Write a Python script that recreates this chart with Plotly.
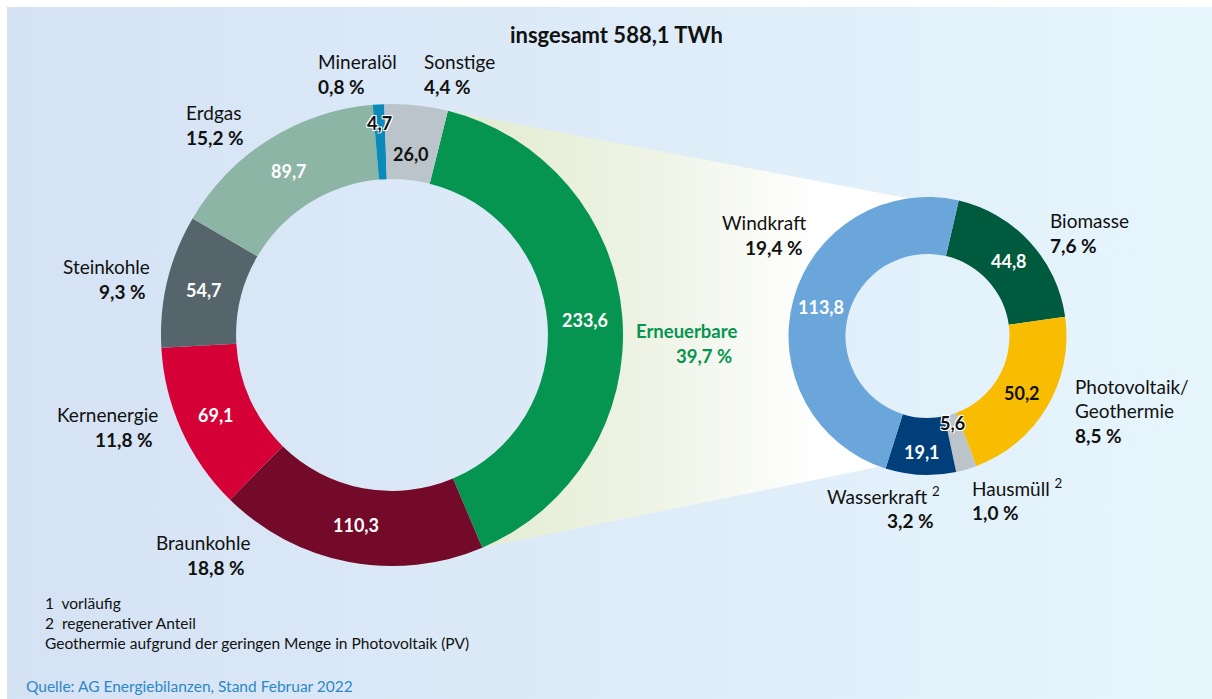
import numpy as np
import plotly.graph_objects as go

# Bruttostromerzeugung 2021 (TWh), vorläufig
main_labels = ["Erneuerbare", "Braunkohle", "Kernenergie", "Steinkohle",
               "Erdgas", "Mineralöl", "Sonstige"]
main_values = [233.6, 110.3, 69.1, 54.7, 89.7, 4.7, 26.0]
main_shares = ["39,7 %", "18,8 %", "11,8 %", "9,3 %", "15,2 %", "0,8 %", "4,4 %"]

ren_labels = ["Biomasse", "Photovoltaik/<br>Geothermie", "Hausmüll <sup>2</sup>",
              "Wasserkraft <sup>2</sup>", "Windkraft"]
ren_values = [44.8, 50.2, 5.6, 19.1, 113.8]
ren_shares = ["7,6 %", "8,5 %", "1,0 %", "3,2 %", "19,4 %"]

title_text = "insgesamt 588,1 TWh"
notes = ["1  vorläufig", "2  regenerativer Anteil",
         "Geothermie aufgrund der geringen Menge in Photovoltaik (PV)"]
source_text = "Quelle: AG Energiebilanzen, Stand Februar 2022"

# colours
main_colors = ["#069550", "#740A2A", "#D40036", "#56646B", "#8DB5A6", "#0A8AB8", "#BCC4CB"]
ren_colors = ["#005A3E", "#F8BD00", "#BCC4CB", "#003F7A", "#6BA6DA"]
main_txtcol = ["white", "white", "white", "white", "white", "#111111", "#111111"]
ren_txtcol = ["white", "#111111", "#111111", "white", "white"]

W, H = 1212, 699
FONT = "Lato"

# donut geometry in pixels
big = dict(cx=392, cy=335, R=231, hole=0.675, rot=14)
small = dict(cx=927.5, cy=336, R=139, hole=0.59, rot=13)


def domain(g):
    return dict(x=[(g["cx"] - g["R"]) / W, (g["cx"] + g["R"]) / W],
                y=[(H - g["cy"] - g["R"]) / H, (H - g["cy"] + g["R"]) / H])


def pt(g, ang, rad):
    a = np.radians(ang)
    return g["cx"] + rad * np.sin(a), g["cy"] - rad * np.cos(a)


def slice_angles(g, vals):
    tot = sum(vals)
    edges = g["rot"] + 360 * np.concatenate([[0], np.cumsum(vals)]) / tot
    return edges[:-1], edges[1:]


fig = go.Figure()

# background gradient
fig.add_trace(go.Scatter(
    x=[7, W, W, 7, 7], y=[7, 7, H, H, 7], mode="lines", fill="toself",
    line=dict(width=0), hoverinfo="skip",
    fillgradient=dict(type="horizontal", colorscale=[[0, "#D4E2F4"], [1, "#E7F5FD"]]),
))

# connecting wedge from "Erneuerbare" to the detail donut
a0, a1 = slice_angles(big, main_values)
t1, t2 = a0[0], a1[0]
mid_b = big["R"] * (1 + big["hole"]) / 2
mid_s = small["R"] * (1 + small["hole"]) / 2
q_top, q_bot = -8, -160
xs, ys = [], []
for p in [pt(big, t1, big["R"]), pt(small, q_top, small["R"])]:
    xs.append(p[0]); ys.append(p[1])
for ang in np.linspace(q_top, q_bot, 40):
    p = pt(small, ang, mid_s); xs.append(p[0]); ys.append(p[1])
for p in [pt(small, q_bot, small["R"]), pt(big, t2, big["R"])]:
    xs.append(p[0]); ys.append(p[1])
for ang in np.linspace(t2, t1, 60):
    p = pt(big, ang, mid_b); xs.append(p[0]); ys.append(p[1])
xs.append(xs[0]); ys.append(ys[0])
fig.add_trace(go.Scatter(
    x=xs, y=ys, mode="lines", fill="toself", line=dict(width=0), hoverinfo="skip",
    fillgradient=dict(type="horizontal", start=440, stop=820,
                      colorscale=[[0, "#E1EBCF"], [0.55, "#EEF3E5"], [1, "#FFFFFF"]]),
))

for g, labels, vals, cols in [(big, main_labels, main_values, main_colors),
                              (small, ren_labels, ren_values, ren_colors)]:
    fig.add_trace(go.Pie(
        labels=labels, values=vals, hole=g["hole"], sort=False, direction="clockwise",
        rotation=g["rot"], domain=domain(g), textinfo="none",
        marker=dict(colors=cols, line=dict(width=0)), hoverinfo="label+value",
    ))

annotations = []


def add(x, y, text, anchor="left", size=19, bold=False, color="#111111", shadow=None):
    f = dict(family=FONT, size=size, color=color, weight=700 if bold else 400)
    if shadow:
        f["shadow"] = shadow
    annotations.append(dict(x=x, y=y, xref="x", yref="y", text=text, showarrow=False,
                            xanchor=anchor, yanchor="middle", font=f))


def fmt(v):
    return f"{v:.1f}".replace(".", ",")


# values inside the rings
halo = "1px 1px 0 white, -1px -1px 0 white, 1px -1px 0 white, -1px 1px 0 white"
rad_main = [0.5, 0.5, 0.5, 0.5, 0.5, 0.75, 0.35]
for v, s, e, c, rf in zip(main_values, a0, a1, main_txtcol, rad_main):
    r = big["R"] * (big["hole"] + (1 - big["hole"]) * rf)
    x, y = pt(big, (s + e) / 2, r)
    add(x, y, fmt(v), "center", 18, True, c, halo if c != "white" and v < 10 else None)

b0, b1 = slice_angles(small, ren_values)
rad_ren = [0.5, 0.5, 0.15, 0.6, 0.5]
for v, s, e, c, rf in zip(ren_values, b0, b1, ren_txtcol, rad_ren):
    r = small["R"] * (small["hole"] + (1 - small["hole"]) * rf)
    x, y = pt(small, (s + e) / 2, r)
    add(x, y, fmt(v), "center", 18, True, c, halo if c != "white" and v < 10 else None)

# outer category labels: (name x, name y, share x, anchor)
main_pos = [(634, 331, 734, "right"), (252, 542, 247, "right"), (160, 414, 155, "right"),
            (152, 266, 148, "right"), (184, 112, 184, "left"), (316, 61, 316, "left"),
            (422, 61, 422, "left")]
for name, share, (nx, ny, sx, anc) in zip(main_labels, main_shares, main_pos):
    green = name == "Erneuerbare"
    col = "#069550" if green else "#111111"
    add(nx, ny, name, "left" if green else anc, 19 if not green else 18.5, green, col)
    add(sx, ny + 25, share, anc, 19 if not green else 18.5, True, col)

ren_pos = [(1048, 220, 1048, "left"), (1073, 398, 1073, "left"), (970, 487, 970, "left"),
           (942, 495, 936, "right"), (808, 222, 805, "right")]
for name, share, (nx, ny, sx, anc) in zip(ren_labels, ren_shares, ren_pos):
    if "<br>" in name:
        first, second = name.split("<br>")
        add(nx, ny - 12, first, anc)
        add(nx, ny + 12, second, anc)
        add(sx, ny + 37, share, anc, 19, True)
    else:
        add(nx, ny, name, anc)
        add(sx, ny + 25, share, anc, 19, True)

add(616, 34, title_text, "center", 22, True)
for i, n in enumerate(notes):
    add(43, 603 + 20 * i, n, "left", 15.5)
add(24, 686, source_text, "left", 15.5, False, "#2D88C8")

fig.update_layout(
    width=W, height=H, margin=dict(l=0, r=0, t=0, b=0),
    paper_bgcolor="white", plot_bgcolor="white", showlegend=False,
    xaxis=dict(range=[0, W], visible=False, fixedrange=True),
    yaxis=dict(range=[H, 0], visible=False, fixedrange=True),
    annotations=annotations,
)

fig.write_html("out.html", config={"displayModeBar": False},
               post_script="document.body.style.margin='0';")
